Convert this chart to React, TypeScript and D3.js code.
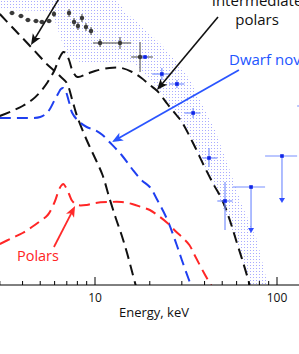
import React from 'react';
import * as d3 from 'd3';

const W = 299;
const H = 354;

// Model curves: energy (keV) vs log10 flux (arbitrary units)
const ipEnergy = [3.0, 3.5, 4, 4.5, 5, 5.5, 6, 6.3, 6.5, 6.7, 6.9, 7.2, 7.5, 8, 9, 10, 12, 14, 16, 18, 20, 22, 25, 28, 30, 35, 40, 45, 50, 55, 60, 65, 70, 71];
const ipFlux = [-2.32, -2.22, -2.12, -2.0, -1.84, -1.64, -1.4, -1.2, -1.1, -1.04, -1.06, -1.2, -1.4, -1.54, -1.48, -1.42, -1.36, -1.36, -1.44, -1.56, -1.7, -1.82, -2.08, -2.3, -2.44, -2.9, -3.34, -3.7, -4.0, -4.4, -4.84, -5.24, -5.64, -5.74];

const softEnergy = [3.0, 3.5, 4, 4.5, 5, 5.5, 6, 6.5, 7, 7.5, 8, 9, 10, 11, 12, 13, 14, 15, 16, 17];
const softFlux = [-0.28, -0.54, -0.76, -0.96, -1.14, -1.3, -1.42, -1.54, -1.66, -2.0, -2.34, -2.8, -3.16, -3.5, -3.96, -4.36, -4.7, -5.06, -5.44, -5.8];

const dnEnergy = [3, 4, 5, 5.5, 6, 6.3, 6.5, 6.7, 6.9, 7.2, 7.5, 8, 9, 10, 11, 12, 14, 16, 18, 20, 22, 25, 28, 30, 33, 34];
const dnFlux = [-2.36, -2.36, -2.34, -2.24, -2.0, -1.86, -1.78, -1.76, -1.82, -2.04, -2.26, -2.4, -2.54, -2.6, -2.7, -2.84, -3.1, -3.38, -3.6, -3.74, -4.0, -4.4, -4.88, -5.2, -5.62, -5.74];

const polEnergy = [3, 3.5, 4, 4.5, 5, 5.5, 6, 6.3, 6.5, 6.7, 6.9, 7.2, 7.5, 8, 9, 10, 12, 14, 16, 18, 20, 22, 25, 28, 30, 33, 35, 40, 44];
const polFlux = [-4.88, -4.76, -4.66, -4.54, -4.42, -4.3, -4.04, -3.82, -3.72, -3.68, -3.74, -3.88, -4.02, -4.1, -4.1, -4.06, -4.04, -4.04, -4.08, -4.14, -4.2, -4.3, -4.46, -4.64, -4.74, -4.9, -5.08, -5.48, -5.74];

// Shaded band (lower edge left->right, upper edge right->left)
const bandLowE = [3.0, 5.31, 5.88, 6.26, 6.67, 7.1, 8.27, 12.09, 16.59, 18.83, 22.76, 26.5, 31.6, 37.8, 45.6, 53.8, 62.6, 71.1, 73.5];
const bandLowF = [-0.2, -0.22, -0.32, -0.6, -0.9, -1.12, -1.24, -1.26, -1.28, -1.48, -1.84, -2.16, -2.56, -3.16, -3.76, -4.4, -5.0, -5.7, -6.0];
const bandHighE = [92.0, 89.2, 77.7, 64.2, 53.8, 45.6, 40.2, 34.1, 28.6, 23.3, 18.35, 14.6, 13.2, 11.3, 2.8];
const bandHighF = [-6.0, -5.7, -4.8, -4.1, -3.3, -2.6, -2.2, -1.66, -1.26, -0.9, -0.54, -0.24, 0.0, 0.3, 0.3];

// Ridge data (black points)
const grxeE = [3.5, 3.92, 4.28, 4.74, 5.11, 5.59, 5.95, 7.2, 7.67, 8.06, 8.48, 8.92, 9.51, 10.66, 13.72, 17.68];
const grxeF = [-0.26, -0.32, -0.4, -0.42, -0.44, -0.42, -0.28, -0.26, -0.44, -0.52, -0.36, -0.54, -0.62, -0.86, -0.86, -1.14];
const grxeELo = [3.38, 3.78, 4.13, 4.57, 4.93, 5.39, 5.8, 7.1, 7.55, 7.95, 8.35, 8.8, 9.4, 9.75, 12.1, 15.8];
const grxeEHi = [3.62, 4.06, 4.43, 4.91, 5.29, 5.79, 6.1, 7.3, 7.8, 8.2, 8.6, 9.05, 9.65, 12.1, 15.8, 20.8];
const grxeErr = [0.04, 0.04, 0.04, 0.04, 0.04, 0.04, 0.06, 0.08, 0.08, 0.08, 0.08, 0.08, 0.08, 0.08, 0.12, 0.3];

// Hard X-ray data (blue points)
const hxE = [18.83, 23.3, 28.2, 34.6, 42.3, 51.8, 72.0, 106.5, 150];
const hxF = [-1.14, -1.48, -1.68, -2.26, -3.16, -4.02, -3.74, -3.12, -2.12];
const hxELo = [18.2, 20.6, 25.5, 31.0, 39.0, 47.0, 57.0, 86.0, 129.0];
const hxEHi = [19.5, 25.5, 31.0, 38.0, 47.0, 57.0, 86.0, 129.0, 175.0];
const hxFHi = [-1.1, -1.36, -1.6, -2.16, -2.96, -3.64, -3.74, -3.12, -2.12];
const hxFLo = [-1.18, -1.6, -1.76, -2.36, -3.34, -4.6, -4.66, -4.06, -2.12];
const hxUpperLimit = [false, false, false, false, false, false, true, true, false];

const xTickLabels = [10, 100];

const xScale = d3.scaleLog().domain([10, 100]).range([95, 277]);
const yScale = d3.scaleLinear().domain([-5.7, 0]).range([285, 0]);

const FONT = "'Open Sans', 'Noto Sans', sans-serif";

function curvePath(E: number[], F: number[]) {
  const line = d3
    .line<number>()
    .x((d, i) => xScale(E[i]))
    .y((d) => yScale(d))
    .curve(d3.curveCatmullRom.alpha(0.5));
  return line(F) || '';
}

function Arrow({ from, to, color, width }: { from: [number, number]; to: [number, number]; color: string; width: number }) {
  const x1 = xScale(from[0]);
  const y1 = yScale(from[1]);
  const x2 = xScale(to[0]);
  const y2 = yScale(to[1]);
  const dx = x2 - x1;
  const dy = y2 - y1;
  const len = Math.hypot(dx, dy);
  const ux = dx / len;
  const uy = dy / len;
  const hl = 11;
  const hw = 4.5;
  const bx = x2 - ux * hl;
  const by = y2 - uy * hl;
  const pts = [
    [x2, y2],
    [bx - uy * hw, by + ux * hw],
    [x2 - ux * hl * 0.75, y2 - uy * hl * 0.75],
    [bx + uy * hw, by - ux * hw],
  ];
  return (
    <g>
      <line x1={x1} y1={y1} x2={x2 - ux * 6} y2={y2 - uy * 6} stroke={color} strokeWidth={width} />
      <polygon points={pts.map((p) => p.join(',')).join(' ')} fill={color} />
    </g>
  );
}

export default function App() {
  const bandE = [...bandLowE, ...bandHighE];
  const bandF = [...bandLowF, ...bandHighF];
  const bandPath =
    d3
      .line<number>()
      .x((d, i) => xScale(bandE[i]))
      .y((d) => yScale(d))
      .curve(d3.curveLinearClosed)(bandF) || '';

  const ticks = xScale.copy().domain([3, 130]).ticks();
  const axisY = yScale(-5.7);

  const dash = '11,6';
  const blackC = '#111111';
  const blueC = '#1f3ff0';
  const redC = '#ff2626';

  return (
    <svg width={W} height={H} style={{ position: 'absolute', left: 0, top: 0, background: '#fff' }}>
      <defs>
        <pattern id="dots" width={3} height={3} patternUnits="userSpaceOnUse">
          <rect x={1} y={1} width={1} height={1} fill="#a9abff" />
        </pattern>
        <clipPath id="plot">
          <rect x={0} y={0} width={W} height={axisY} />
        </clipPath>
      </defs>
      <g clipPath="url(#plot)">
        <path d={bandPath} fill="url(#dots)" stroke="none" />
        <path d={curvePath(softEnergy, softFlux)} fill="none" stroke={blackC} strokeWidth={2} strokeDasharray={dash} />
        <path d={curvePath(ipEnergy, ipFlux)} fill="none" stroke={blackC} strokeWidth={2} strokeDasharray={dash} />
        <path d={curvePath(dnEnergy, dnFlux)} fill="none" stroke={blueC} strokeWidth={2} strokeDasharray={dash} />
        <path d={curvePath(polEnergy, polFlux)} fill="none" stroke={redC} strokeWidth={2} strokeDasharray={dash} />

        {grxeE.map((e, i) => (
          <g key={'g' + i}>
            <line x1={xScale(grxeELo[i])} x2={xScale(grxeEHi[i])} y1={yScale(grxeF[i])} y2={yScale(grxeF[i])} stroke="#555" strokeWidth={1.1} />
            <line x1={xScale(e)} x2={xScale(e)} y1={yScale(grxeF[i] + grxeErr[i])} y2={yScale(grxeF[i] - grxeErr[i])} stroke="#555" strokeWidth={1.1} />
            <circle cx={xScale(e)} cy={yScale(grxeF[i])} r={2.2} fill="#3a3a3a" />
          </g>
        ))}

        {hxE.map((e, i) => {
          const cx = xScale(e);
          const cy = yScale(hxF[i]);
          const yLo = yScale(hxFLo[i]);
          return (
            <g key={'h' + i}>
              <line x1={xScale(hxELo[i])} x2={xScale(hxEHi[i])} y1={cy} y2={cy} stroke="#7890ff" strokeWidth={1.2} />
              <line x1={cx} x2={cx} y1={yScale(hxFHi[i])} y2={hxUpperLimit[i] ? yLo - 4 : yLo} stroke="#7890ff" strokeWidth={1.2} />
              {hxUpperLimit[i] && (
                <polygon points={`${cx - 3},${yLo - 5} ${cx + 3},${yLo - 5} ${cx},${yLo}`} fill="#2f4cff" />
              )}
              <rect x={cx - 1.8} y={cy - 1.8} width={3.6} height={3.6} fill="#1026e8" />
            </g>
          );
        })}
      </g>

      {/* annotations */}
      <Arrow from={[6.42, 0.06]} to={[4.45, -0.9]} color="#111" width={1.6} />
      <Arrow from={[47.4, -0.34]} to={[21.9, -1.8]} color="#111" width={1.6} />
      <Arrow from={[61.8, -1.4]} to={[12.4, -2.84]} color="#2a55ff" width={1.8} />
      <Arrow from={[5.95, -4.94]} to={[7.77, -4.12]} color="#ff2a2a" width={1.8} />

      <text x={xScale(77.7)} y={yScale(-0.11)} textAnchor="middle" fontFamily={FONT} fontSize={15} fill="#111">
        Intermediate
      </text>
      <text x={xScale(77.7)} y={yScale(-0.5)} textAnchor="middle" fontFamily={FONT} fontSize={15} fill="#111">
        polars
      </text>
      <text x={xScale(54.5)} y={yScale(-1.3)} fontFamily={FONT} fontSize={15} fill="#2255ff">
        Dwarf novae
      </text>
      <text x={xScale(4.86)} y={yScale(-5.22)} textAnchor="middle" fontFamily={FONT} fontSize={14.5} fill="#ff2424">
        Polars
      </text>

      {/* x axis */}
      <line x1={0} x2={W} y1={axisY} y2={axisY} stroke="#000" strokeWidth={1} />
      {ticks.map((t, i) => {
        const major = xTickLabels.includes(t);
        const x = xScale(t);
        return <line key={'t' + i} x1={x} x2={x} y1={axisY} y2={axisY - (major ? 8 : 4)} stroke="#000" strokeWidth={1} />;
      })}
      {xTickLabels.map((t) => (
        <text key={'l' + t} x={xScale(t)} y={302} textAnchor="middle" fontFamily={FONT} fontSize={12} fill="#111">
          {t}
        </text>
      ))}
      <text x={154} y={317} textAnchor="middle" fontFamily={FONT} fontSize={13} fill="#111">
        Energy, keV
      </text>
    </svg>
  );
}
